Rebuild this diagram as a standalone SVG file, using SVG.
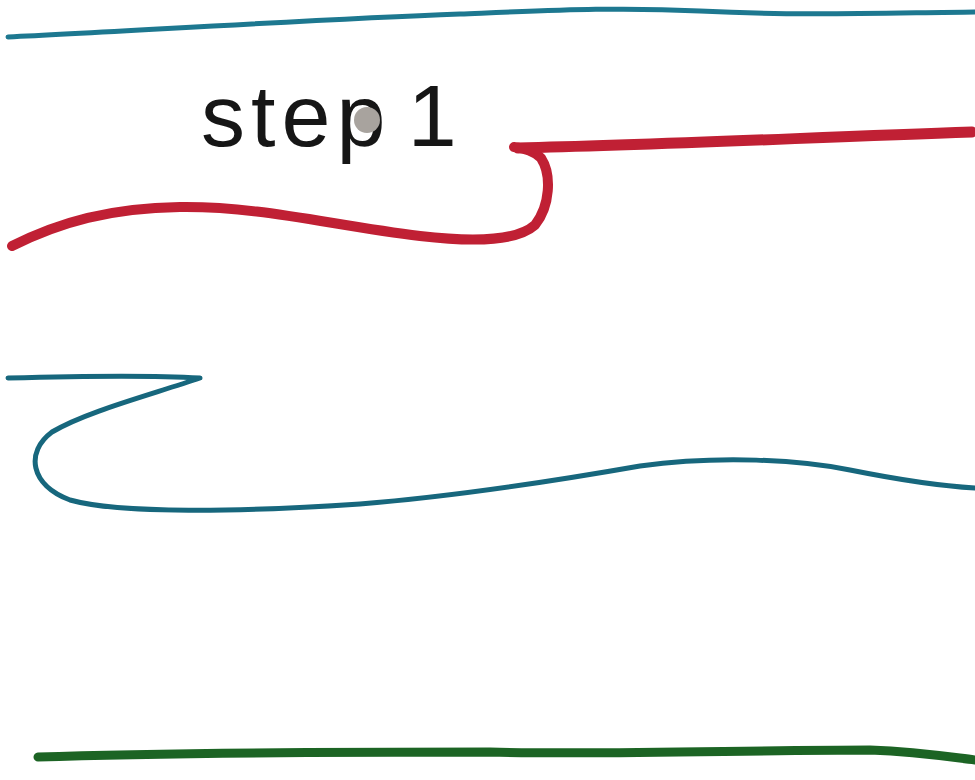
<svg xmlns="http://www.w3.org/2000/svg" width="975" height="780" viewBox="0 0 975 780">
<style>
.ln{fill:none;stroke-linecap:round;stroke-linejoin:round}
.teal{stroke:#1d7890}
.teal2{stroke:#17677d}
.red{stroke:#c02034}
.green{stroke:#1c6424}
.lbl{font-family:"Liberation Sans",Arial,sans-serif;font-size:88px;fill:#161616;letter-spacing:6px;word-spacing:-14px}
</style>
<rect width="975" height="780" fill="#ffffff"/>
<g id="top-line">
<path class="ln teal" stroke-width="5" d="M8,37 C120,32 300,20 460,14 C560,10 620,7 700,11 C800,16 880,13 975,12"/>
</g>
<g id="label">
<text class="lbl" x="201" y="146">step 1</text>
<circle cx="367" cy="120" r="13" fill="#a8a39e"/>
</g>
<g id="red-line">
<path class="ln red" stroke-width="10" d="M12,246 C60,222 110,208 180,207 C260,206 330,225 420,236 C480,243 518,240 535,225 C550,206 552,175 541,158 C533,150 524,148 514,147"/>
<path class="ln red" stroke-width="11" d="M518,148 C650,145 800,138 972,132"/>
</g>
<g id="middle-line">
<path class="ln teal2" stroke-width="5" d="M8,378 C80,376 150,375 200,378 C150,395 85,412 52,432 C25,452 30,485 70,500 C120,514 240,512 360,504 C460,496 560,480 640,466 C720,455 800,460 850,470 C900,480 940,486 975,488"/>
</g>
<g id="bottom-line">
<path class="ln green" stroke-width="9" d="M38,757 C150,753 350,752 490,752 C600,755 750,750 870,750 C920,752 950,757 975,760"/>
</g>
</svg>
